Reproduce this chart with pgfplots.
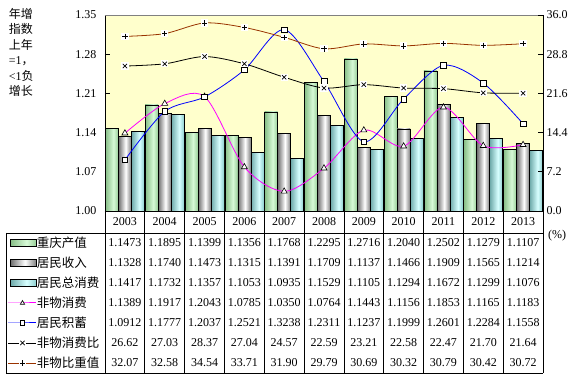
\documentclass[border=0pt]{standalone}
\usepackage{fontspec}
\setmainfont{Liberation Serif}
\newfontfamily\cjk{Noto Sans CJK SC}
\usepackage{pgfplots}
\usepackage{pgfplotstable}
\pgfplotsset{compat=1.18}

\definecolor{bgyellow}{HTML}{FFFFCC}
\definecolor{gL}{RGB}{135,190,135}
\definecolor{gM}{RGB}{215,250,215}
\definecolor{gR}{RGB}{150,205,150}
\definecolor{yL}{RGB}{110,110,110}
\definecolor{yM}{RGB}{255,255,255}
\definecolor{yR}{RGB}{125,125,125}
\definecolor{cL}{RGB}{110,170,170}
\definecolor{cM}{RGB}{215,255,255}
\definecolor{cR}{RGB}{140,205,205}
\definecolor{fwcol}{HTML}{FF00FF}
\definecolor{savcol}{HTML}{0000FF}
\definecolor{sharecol}{HTML}{993300}

\pgfdeclarehorizontalshading{shG}{100bp}{color(0bp)=(gL); color(25bp)=(gL); color(56bp)=(gM); color(75bp)=(gR); color(100bp)=(gR)}
\pgfdeclarehorizontalshading{shY}{100bp}{color(0bp)=(yL); color(25bp)=(yL); color(53bp)=(yM); color(75bp)=(yR); color(100bp)=(yR)}
\pgfdeclarehorizontalshading{shC}{100bp}{color(0bp)=(cL); color(25bp)=(cL); color(56bp)=(cM); color(75bp)=(cR); color(100bp)=(cR)}

\pgfdeclareplotmark{wx}{%
  \pgfpathrectangle{\pgfqpoint{-\pgfplotmarksize}{-\pgfplotmarksize}}{\pgfqpoint{2\pgfplotmarksize}{2\pgfplotmarksize}}%
  \pgfsetfillcolor{white}\pgfusepathqfill
  \pgfsetstrokecolor{black}%
  \pgfpathmoveto{\pgfqpoint{-.6\pgfplotmarksize}{-.6\pgfplotmarksize}}%
  \pgfpathlineto{\pgfqpoint{.6\pgfplotmarksize}{.6\pgfplotmarksize}}%
  \pgfpathmoveto{\pgfqpoint{-.6\pgfplotmarksize}{.6\pgfplotmarksize}}%
  \pgfpathlineto{\pgfqpoint{.6\pgfplotmarksize}{-.6\pgfplotmarksize}}%
  \pgfusepathqstroke}
\pgfdeclareplotmark{wp}{%
  \pgfpathrectangle{\pgfqpoint{-\pgfplotmarksize}{-\pgfplotmarksize}}{\pgfqpoint{2\pgfplotmarksize}{2\pgfplotmarksize}}%
  \pgfsetfillcolor{white}\pgfusepathqfill
  \pgfsetstrokecolor{black}%
  \pgfpathmoveto{\pgfqpoint{-.75\pgfplotmarksize}{0pt}}%
  \pgfpathlineto{\pgfqpoint{.75\pgfplotmarksize}{0pt}}%
  \pgfpathmoveto{\pgfqpoint{0pt}{.75\pgfplotmarksize}}%
  \pgfpathlineto{\pgfqpoint{0pt}{-.75\pgfplotmarksize}}%
  \pgfusepathqstroke}

\pgfplotstableread{
x year cq inc cons fw sav ratio share
0 2003 1.1473 1.1328 1.1417 1.1389 1.0912 26.62 32.07
1 2004 1.1895 1.1740 1.1732 1.1917 1.1777 27.03 32.58
2 2005 1.1399 1.1473 1.1357 1.2043 1.2037 28.37 34.54
3 2006 1.1356 1.1315 1.1053 1.0785 1.2521 27.04 33.71
4 2007 1.1768 1.1391 1.0935 1.0350 1.3238 24.57 31.90
5 2008 1.2295 1.1709 1.1529 1.0764 1.2311 22.59 29.79
6 2009 1.2716 1.1137 1.1105 1.1443 1.1237 23.21 30.69
7 2010 1.2040 1.1466 1.1294 1.1156 1.1999 22.58 30.32
8 2011 1.2502 1.1909 1.1672 1.1853 1.2601 22.47 30.79
9 2012 1.1279 1.1565 1.1299 1.1165 1.2284 21.70 30.42
10 2013 1.1107 1.1214 1.1076 1.1183 1.1558 21.64 30.72
}\data

\pgfplotsset{
  barlegend/.style={legend image code/.code={\draw[##1] (2pt,-3.5pt) rectangle (28pt,3.5pt);}},
  barG/.style={ybar, bar width=13pt, bar shift=-13pt, draw=black, line width=0.7pt, shade, shading=shG},
  barY/.style={ybar, bar width=13pt, bar shift=0pt, draw=black, line width=0.7pt, shade, shading=shY},
  barC/.style={ybar, bar width=13pt, bar shift=13pt, draw=black, line width=0.7pt, shade, shading=shC},
  common/.style={
    scale only axis, width=438pt, height=196pt,
    at={(105pt,168pt)}, anchor=south west,
    xmin=-0.5, xmax=10.5,
    axis line style={-, line width=0.8pt},
    tick style={black, line width=0.6pt},
    major tick length=5pt,
    ytick align=inside,
    /pgf/number format/assume math mode=true,
  },
}

\begin{document}
\begin{tikzpicture}[font=\fontsize{12}{14}\selectfont]
\useasboundingbox (0pt,0pt) rectangle (582pt,379pt);
\begin{axis}[common,
  axis background/.style={fill=bgyellow},
  axis x line*=bottom, axis y line*=left,
  ymin=1, ymax=1.35,
  ytick={1,1.07,1.14,1.21,1.28,1.35},
  yticklabel style={/pgf/number format/fixed, /pgf/number format/fixed zerofill, /pgf/number format/precision=2, xshift=-5pt},
  xtick={0,...,10},
  xticklabels={2003,2004,2005,2006,2007,2008,2009,2010,2011,2012,2013},
  x tick style={draw=none},
  xticklabel style={anchor=center, yshift=-11pt},
  ylabel={年增\\指数\\上年\\{\rmfamily =1}，\\{\rmfamily <1}负\\增长},
  ylabel style={rotate=-90, at={(axis description cs:-0.22,1.036)}, anchor=north west, align=left, inner sep=0pt, font=\cjk\fontsize{12}{15.5}\selectfont},
]
\pgfplotsinvokeforeach{0,...,10}{
  \addplot[barG, restrict x to domain=#1:#1] table[x=x, y=cq]{\data};
  \addplot[barY, restrict x to domain=#1:#1] table[x=x, y=inc]{\data};
  \addplot[barC, restrict x to domain=#1:#1] table[x=x, y=cons]{\data};
}
\addplot[fwcol, smooth, line width=0.8pt, mark=triangle*, mark size=3.5pt, mark options={fill=white, draw=black, line width=0.6pt}] table[x=x, y=fw]{\data};
\addplot[savcol, smooth, line width=0.8pt, mark=square*, mark size=2.8pt, mark options={fill=white, draw=black, line width=0.6pt}] table[x=x, y=sav]{\data};
\draw[gray, line width=0.8pt] (rel axis cs:0,1) -- (rel axis cs:1,1);
\end{axis}

\begin{axis}[common,
  axis x line=none, axis y line*=right,
  ymin=0, ymax=36,
  ytick={0,7.2,14.4,21.6,28.8,36},
  yticklabel style={/pgf/number format/fixed, /pgf/number format/fixed zerofill, /pgf/number format/precision=1},
  ylabel={(\%)},
  ylabel style={rotate=-90, at={(axis description cs:1.0114,-0.128)}, anchor=west, inner sep=0pt},
  legend image code/.code={\draw[mark repeat=2, mark phase=2, #1] plot coordinates {(0pt,0pt) (14pt,0pt) (28pt,0pt)};},
  legend style={at={(axis description cs:-0.22146,-0.1122)}, anchor=north west, draw=none, fill=none,
    inner sep=0pt, outer sep=0pt, row sep=0pt, font=\cjk\fontsize{12.5}{14}\selectfont,
    nodes={inner sep=0pt, minimum height=20pt},
    /tikz/every even column/.append style={column sep=4pt}},
  legend cell align=left,
]
\addlegendimage{barlegend, draw=black, line width=0.7pt, shade, shading=shG}
\addlegendentry{重庆产值}
\addlegendimage{barlegend, draw=black, line width=0.7pt, shade, shading=shY}
\addlegendentry{居民收入}
\addlegendimage{barlegend, draw=black, line width=0.7pt, shade, shading=shC}
\addlegendentry{居民总消费}
\addlegendimage{color=fwcol, line width=1pt, mark=triangle*, mark size=2.5pt, mark options={fill=white, draw=black, line width=0.6pt}}
\addlegendentry{非物消费}
\addlegendimage{color=savcol, line width=1pt, mark=square*, mark size=2.2pt, mark options={fill=white, draw=black, line width=0.6pt}}
\addlegendentry{居民积蓄}
\addplot[black, smooth, line width=0.8pt, mark=wx, mark size=3.6pt, mark options={line width=0.7pt}] table[x=x, y=ratio]{\data};
\addlegendentry{非物消费比}
\addplot[sharecol, smooth, line width=0.8pt, mark=wp, mark size=3.6pt, mark options={line width=0.7pt}] table[x=x, y=share]{\data};
\addlegendentry{非物比重值}
\end{axis}

% data table grid
\begin{scope}[line width=0.8pt]
\draw (6pt,146pt) -- (543pt,146pt);
\draw (6pt,146pt) -- (6pt,6pt) -- (543pt,6pt);
\foreach \k in {0,...,11} {
  \draw ({105pt+\k*39.818pt},168pt) -- ({105pt+\k*39.818pt},6pt);
}
\end{scope}
\foreach \c [count=\r from 0] in {cq,inc,cons,fw,sav,ratio,share} {
  \foreach \i in {0,...,10} {
    \pgfplotstablegetelem{\i}{\c}\of\data
    \node[inner sep=0pt] at ({105pt+(\i+0.5)*39.818pt},{136pt-20pt*\r}) {\pgfplotsretval};
  }
}
\end{tikzpicture}
\end{document}
